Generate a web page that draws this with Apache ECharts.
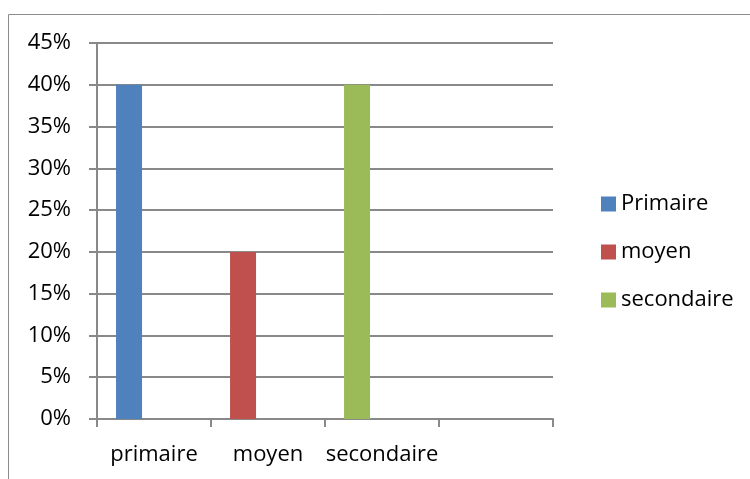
<!DOCTYPE html>
<html>
<head>
<meta charset="utf-8">
<script src="https://cdn.jsdelivr.net/npm/echarts@6/dist/echarts.min.js"></script>
<style>
  html, body { margin: 0; padding: 0; background: #fff; }
  #chart { width: 750px; height: 479px; }
</style>
</head>
<body>
<div id="chart"></div>
<script>
// Répartition par niveau d'instruction
const categories = ['primaire', 'moyen', 'secondaire', ''];
const seriesNames = ['Primaire', 'moyen', 'secondaire'];
const primaireValues   = [0.40, '-', '-', '-'];
const moyenValues      = ['-', 0.20, '-', '-'];
const secondaireValues = ['-', '-', 0.40, '-'];
const seriesColors = ['#4F81BD', '#C0504D', '#9BBB59'];
const yMin = 0, yMax = 0.45, yStep = 0.05;

const font = '"Open Sans", Lato, sans-serif';
const gridGray = '#898989';

const valueLists = [primaireValues, moyenValues, secondaireValues];
const barSeries = seriesNames.map((name, i) => ({
  name: name,
  type: 'bar',
  stack: 'niveau',
  barWidth: 26,
  barGap: '92%',
  data: valueLists[i],
  itemStyle: { color: seriesColors[i] }
}));
// empty companion column keeps each bar on the left side of its category
barSeries.push({
  name: 'vide',
  type: 'bar',
  stack: 'vide',
  barWidth: 26,
  data: categories.map(() => '-'),
  silent: true
});

const chart = echarts.init(document.getElementById('chart'), null, { renderer: 'canvas' });
chart.setOption({
  animation: false,
  backgroundColor: '#ffffff',
  graphic: [{
    type: 'rect',
    shape: { x: 8.5, y: 14.5, width: 800, height: 520 },
    style: { fill: 'none', stroke: '#8c8c8c', lineWidth: 1 },
    silent: true
  }],
  grid: { left: 97, right: 197, top: 43, bottom: 60, containLabel: false },
  legend: {
    orient: 'vertical',
    left: 596,
    top: 188,
    data: seriesNames,
    itemWidth: 15,
    itemHeight: 15,
    itemGap: 26,
    icon: 'rect',
    textStyle: { fontFamily: font, fontSize: 22, color: '#000' }
  },
  xAxis: {
    type: 'category',
    data: categories,
    axisLine: { lineStyle: { color: gridGray, width: 2 } },
    axisTick: { show: true, length: 8, lineStyle: { color: gridGray, width: 2 } },
    axisLabel: { interval: 0, margin: 25, fontFamily: font, fontSize: 22, color: '#000' },
    splitLine: { show: false }
  },
  yAxis: {
    type: 'value',
    min: yMin,
    max: yMax,
    interval: yStep,
    axisLine: { show: true, lineStyle: { color: gridGray, width: 2 } },
    axisTick: { show: true, length: 8, lineStyle: { color: gridGray, width: 2 } },
    axisLabel: {
      margin: 26,
      padding: [4, 0, 0, 0],
      fontFamily: font,
      fontSize: 22,
      color: '#000',
      formatter: v => Math.round(v * 100) + '%'
    },
    splitLine: { show: true, lineStyle: { color: gridGray, width: 2 } }
  },
  series: barSeries
});
</script>
</body>
</html>
